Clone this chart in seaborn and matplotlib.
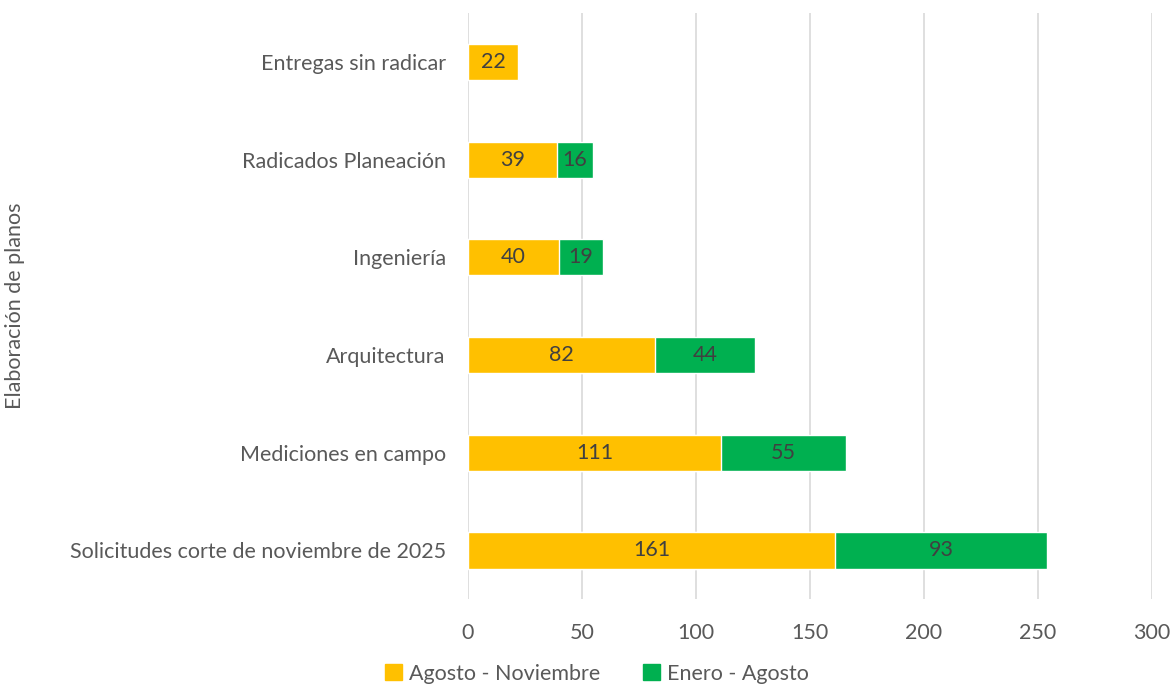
import pandas as pd
import matplotlib.pyplot as plt
import seaborn as sns
from matplotlib.patches import Patch

# --------------------------
# Data
# --------------------------
categories = [
    "Entregas sin radicar",
    "Radicados Planeación",
    "Ingeniería",
    "Arquitectura",
    "Mediciones en campo",
    "Solicitudes corte de noviembre de 2025",
]
agosto_noviembre = [22, 39, 40, 82, 111, 161]
enero_agosto = [0, 16, 19, 44, 55, 93]

df = pd.DataFrame({
    "Categoria": categories,
    "Agosto - Noviembre": agosto_noviembre,
    "Enero - Agosto": enero_agosto,
})
df["Total"] = df["Agosto - Noviembre"] + df["Enero - Agosto"]

orange = "#FFC000"
green = "#00B050"
text_gray = "#595959"
label_gray = "#404040"
fs = 15.5

sns.set_style("white")
plt.rcParams["font.family"] = ["Lato", "DejaVu Sans"]

fig = plt.figure(figsize=(11.7, 6.92), dpi=100)
ax = fig.add_axes([0.4, 0.134, 0.5846, 0.847])

# Stacked bars: total (green) underneath, first series (orange) on top
sns.barplot(data=df, y="Categoria", x="Total", color=green, width=0.37,
            saturation=1, orient="h", ax=ax, zorder=2)
sns.barplot(data=df, y="Categoria", x="Agosto - Noviembre", color=orange,
            width=0.37, saturation=1, orient="h", ax=ax, zorder=3)

# Data labels
green_bars = ax.containers[0]
orange_bars = ax.containers[1]
ax.bar_label(orange_bars, labels=[str(v) for v in agosto_noviembre],
             label_type="center", color=label_gray, fontsize=fs, zorder=4)
for bar, ob, v in zip(green_bars, orange_bars, enero_agosto):
    if v > 0:
        x = ob.get_width() + v / 2
        y = bar.get_y() + bar.get_height() / 2
        ax.text(x, y, str(v), ha="center", va="center",
                color=label_gray, fontsize=fs, zorder=4)

ax.set_xlim(0, 300)
ax.set_xticks(range(0, 301, 50))
ax.grid(axis="x", color="#D9D9D9", linewidth=1.2, zorder=0)
ax.grid(axis="y", visible=False)
sns.despine(ax=ax, left=True, bottom=True)
ax.tick_params(axis="both", length=0, labelsize=fs, colors=text_gray)
ax.tick_params(axis="x", pad=17)
ax.tick_params(axis="y", pad=16)

ax.set_xlabel("")
ax.set_ylabel("Elaboración de planos", fontsize=fs, color=text_gray)
ax.yaxis.set_label_coords(-0.648, 0.5)

handles = [Patch(color=orange, label="Agosto - Noviembre"),
           Patch(color=green, label="Enero - Agosto")]
fig.legend(handles=handles, loc="lower center", bbox_to_anchor=(0.51, -0.016),
           ncol=2, frameon=False, fontsize=fs, labelcolor=text_gray,
           handlelength=0.8, handleheight=0.8, handletextpad=0.3,
           columnspacing=2.0)

fig.savefig("out.png", dpi=100)
